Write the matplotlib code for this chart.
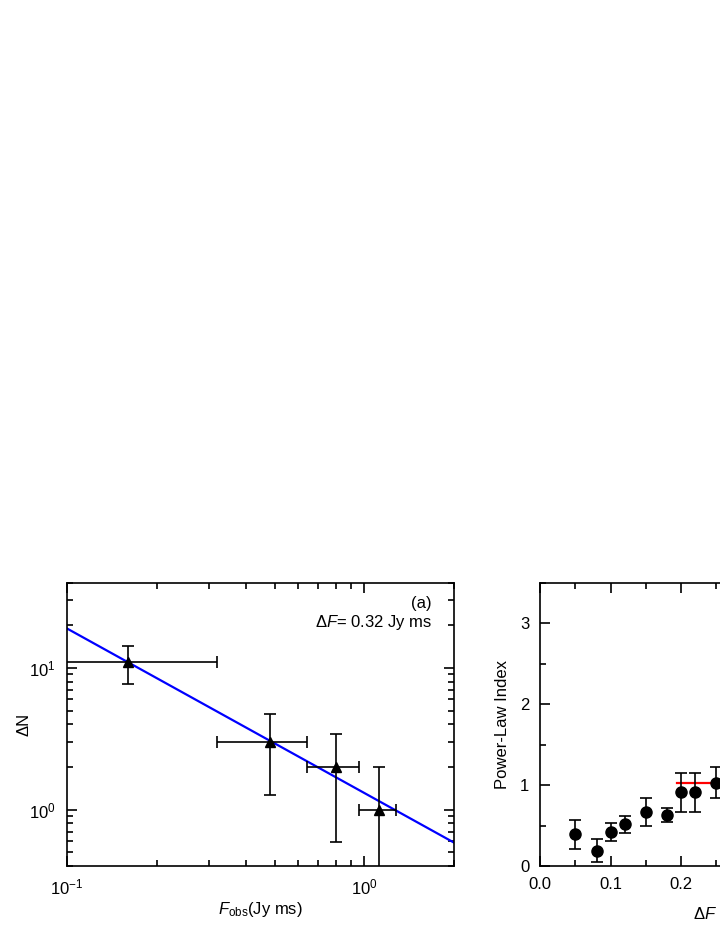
import matplotlib
matplotlib.use('Agg')
import matplotlib.pyplot as plt
from matplotlib.ticker import LogLocator, NullFormatter, MultipleLocator

plt.rcParams['font.family'] = ['Liberation Sans', 'DejaVu Sans']
plt.rcParams['mathtext.fontset'] = 'custom'
plt.rcParams['mathtext.rm'] = 'Liberation Sans'
plt.rcParams['mathtext.it'] = 'Liberation Sans:italic'
plt.rcParams['font.size'] = 12

# panel (a): counts per flux bin
flux = [0.16, 0.48, 0.80, 1.12]
flux_lo = [0.16, 0.16, 0.16, 0.16]
flux_hi = [0.16, 0.16, 0.16, 0.16]
counts = [11, 3, 2, 1]
counts_err = [3.32, 1.73, 1.41, 0.999]
fit_x = [0.1, 2.0]
fit_y = [19.0, 0.585]

# panel (b): power-law index vs bin width
bin_width = [0.05, 0.08, 0.10, 0.12, 0.15, 0.18, 0.20, 0.22, 0.25]
index = [0.39, 0.19, 0.42, 0.515, 0.67, 0.63, 0.91, 0.91, 1.03]
index_err = [0.175, 0.14, 0.115, 0.105, 0.17, 0.09, 0.24, 0.24, 0.19]
mean_x = [0.195, 0.55]
mean_y = [1.02, 1.02]


def style_axes(ax):
    for s in ax.spines.values():
        s.set_linewidth(1.2)
    ax.tick_params(which='both', direction='in', top=True, right=True, width=1.2)
    ax.tick_params(which='major', length=7.5, pad=8)
    ax.tick_params(which='minor', length=4)


fig = plt.figure(figsize=(7.2, 9.31), dpi=100)

ax1 = fig.add_axes([0.0931, 0.0698, 0.5375, 0.3043])
ax1.set_xscale('log')
ax1.set_yscale('log')
ax1.plot(fit_x, fit_y, color='#0000ff', lw=1.6, zorder=2)
ax1.errorbar(flux, counts, xerr=[flux_lo, flux_hi], yerr=counts_err,
             fmt='^', color='black', ms=7, elinewidth=1.2, capsize=4,
             capthick=1.2, zorder=3)
ax1.set_xlim(0.1, 2.0)
ax1.set_ylim(0.4, 40)
ax1.xaxis.set_minor_locator(LogLocator(base=10, subs=range(2, 10)))
ax1.yaxis.set_minor_locator(LogLocator(base=10, subs=range(2, 10)))
ax1.xaxis.set_minor_formatter(NullFormatter())
ax1.yaxis.set_minor_formatter(NullFormatter())
style_axes(ax1)
ax1.set_xlabel(r'$F_{\mathrm{obs}}$(Jy ms)', labelpad=2)
ax1.set_ylabel('ΔN', labelpad=-2)
ax1.text(0.943, 0.928, '(a)', transform=ax1.transAxes, ha='right', va='center')
ax1.text(0.943, 0.858, r'Δ$F$= 0.32 Jy ms', transform=ax1.transAxes,
         ha='right', va='center')

ax2 = fig.add_axes([0.7504, 0.0698, 0.5375, 0.3043])
ax2.plot(mean_x, mean_y, color='#ff0000', lw=1.6, zorder=2)
ax2.errorbar(bin_width, index, yerr=index_err, fmt='o', color='black',
             ms=8, elinewidth=1.2, capsize=4, capthick=1.2, zorder=3)
ax2.set_xlim(0, 0.55)
ax2.set_ylim(0, 3.5)
ax2.xaxis.set_major_locator(MultipleLocator(0.1))
ax2.xaxis.set_minor_locator(MultipleLocator(0.05))
ax2.yaxis.set_major_locator(MultipleLocator(1))
ax2.yaxis.set_minor_locator(MultipleLocator(0.5))
ax2.xaxis.set_major_formatter(plt.FuncFormatter(lambda v, p: f'{v:.1f}'))
style_axes(ax2)
ax2.set_xlabel(r'Δ$F$ (Jy ms)', labelpad=9)
ax2.set_ylabel('Power-Law Index', labelpad=7)

fig.savefig('out.png', dpi=100)
